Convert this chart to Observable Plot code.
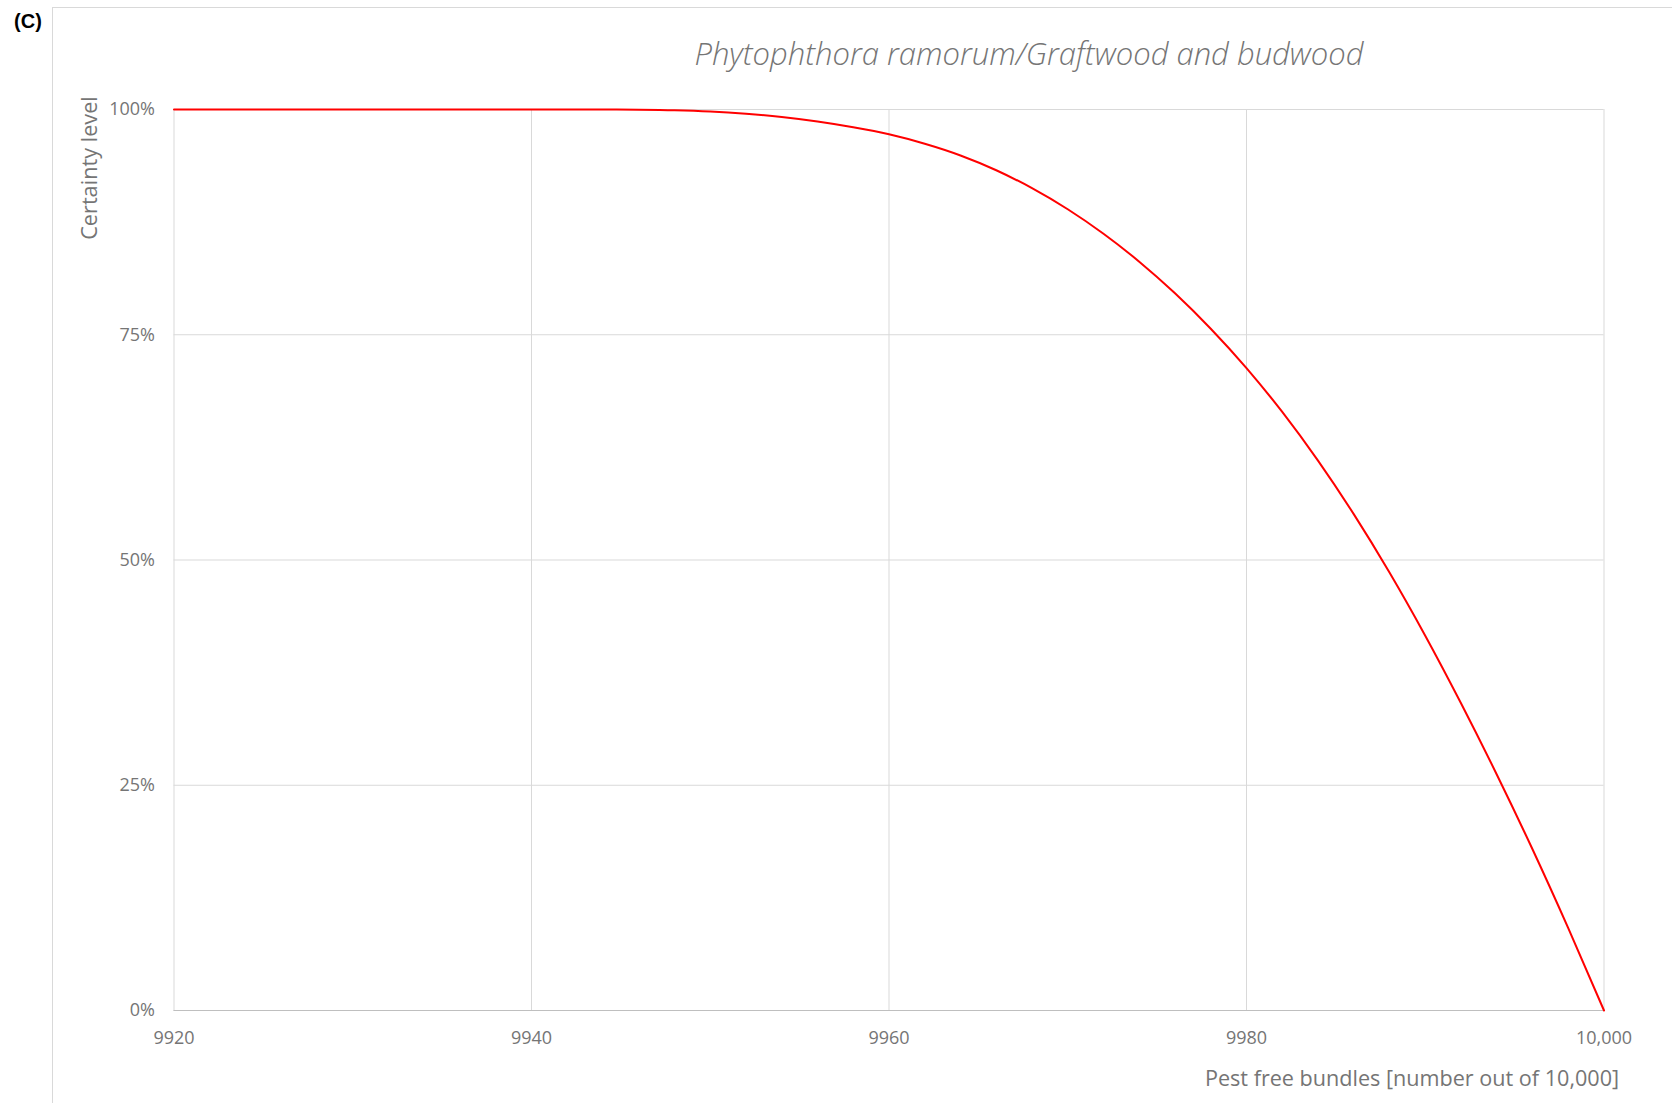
<!DOCTYPE html>
<html>
<head>
<meta charset="utf-8">
<script src="https://cdn.jsdelivr.net/npm/d3@7"></script>
<script src="https://cdn.jsdelivr.net/npm/@observablehq/plot@0.6"></script>
<style>
  html, body { margin: 0; padding: 0; background: #fff; overflow: hidden; }
  #wrap { position: relative; width: 1672px; height: 1103px; overflow: hidden; font-family: "Open Sans", sans-serif; }
  #frame { position: absolute; left: 52px; top: 7px; width: 1700px; height: 1200px; border: 1px solid #d9d9d9; box-sizing: border-box; }
  #plot { position: absolute; left: 0; top: 0; }
  .lbl { position: absolute; white-space: nowrap; color: #757575; transform: translate(-50%, -50%); line-height: 1; }
  #panel { left: 28px; top: 21px; font-family: "Liberation Sans", Arial, sans-serif; font-weight: bold; font-size: 20px; color: #000; }
  #title { left: 1029px; top: 53px; font-style: italic; font-weight: 300; font-size: 31px; }
  #ylab { left: 89px; top: 168px; font-size: 21.7px; transform: translate(-50%, -50%) rotate(-90deg); }
  #xlab { left: 1412px; top: 1078px; font-size: 21.6px; }
</style>
</head>
<body>
<div id="wrap">
  <div id="frame"></div>
  <div id="plot"></div>
  <div class="lbl" id="panel">(C)</div>
  <div class="lbl" id="title">Phytophthora ramorum/Graftwood and budwood</div>
  <div class="lbl" id="ylab">Certainty level</div>
  <div class="lbl" id="xlab">Pest free bundles [number out of 10,000]</div>
</div>
<script>
// Pest free bundles (x) and certainty level in percent (y)
const bundles = [9920, 9930, 9940, 9944, 9946, 9948, 9950, 9952, 9954, 9956, 9958, 9960, 9962, 9964, 9966, 9968, 9970, 9972, 9974, 9976, 9978, 9980, 9982, 9984, 9986, 9988, 9990, 9992, 9994, 9996, 9998, 10000];
const certainty = [100, 100, 100, 100, 99.98, 99.92, 99.78, 99.53, 99.17, 98.67, 98.03, 97.25, 96.2, 94.9, 93.26, 91.27, 88.93, 86.21, 83.11, 79.6, 75.67, 71.3, 66.43, 61.03, 55.09, 48.61, 41.6, 34.1, 26.2, 17.9, 9.15, 0];
const xTicks = [9920, 9940, 9960, 9980, 10000];
const yTicks = [0, 25, 50, 75, 100];

const data = bundles.map((b, i) => ({x: b, y: certainty[i]}));
const fmtX = d => d >= 10000 ? d3.format(",")(d) : String(d);

const chart = Plot.plot({
  width: 1672,
  height: 1103,
  marginLeft: 173.5,
  marginRight: 68.5,
  marginTop: 109,
  marginBottom: 93,
  style: {fontFamily: "Open Sans, sans-serif", fontSize: "18px", color: "#757575", background: "transparent", overflow: "visible"},
  x: {domain: [9920, 10000]},
  y: {domain: [0, 100]},
  marks: [
    Plot.gridX(xTicks, {stroke: "#d9d9d9", strokeOpacity: 1}),
    Plot.gridY(yTicks, {stroke: "#d9d9d9", strokeOpacity: 1}),
    Plot.ruleY([0], {stroke: "#bfbfbf"}),
    Plot.axisX(xTicks, {tickSize: 0, tickPadding: 21, tickFormat: fmtX, label: null, fill: "#757575"}),
    Plot.axisY(yTicks, {tickSize: 0, tickPadding: 19, tickFormat: d => d + "%", label: null, fill: "#757575"}),
    Plot.line(data, {x: "x", y: "y", stroke: "#ff0000", strokeWidth: 2, curve: "monotone-x"})
  ]
});
document.getElementById("plot").appendChild(chart);
</script>
</body>
</html>
